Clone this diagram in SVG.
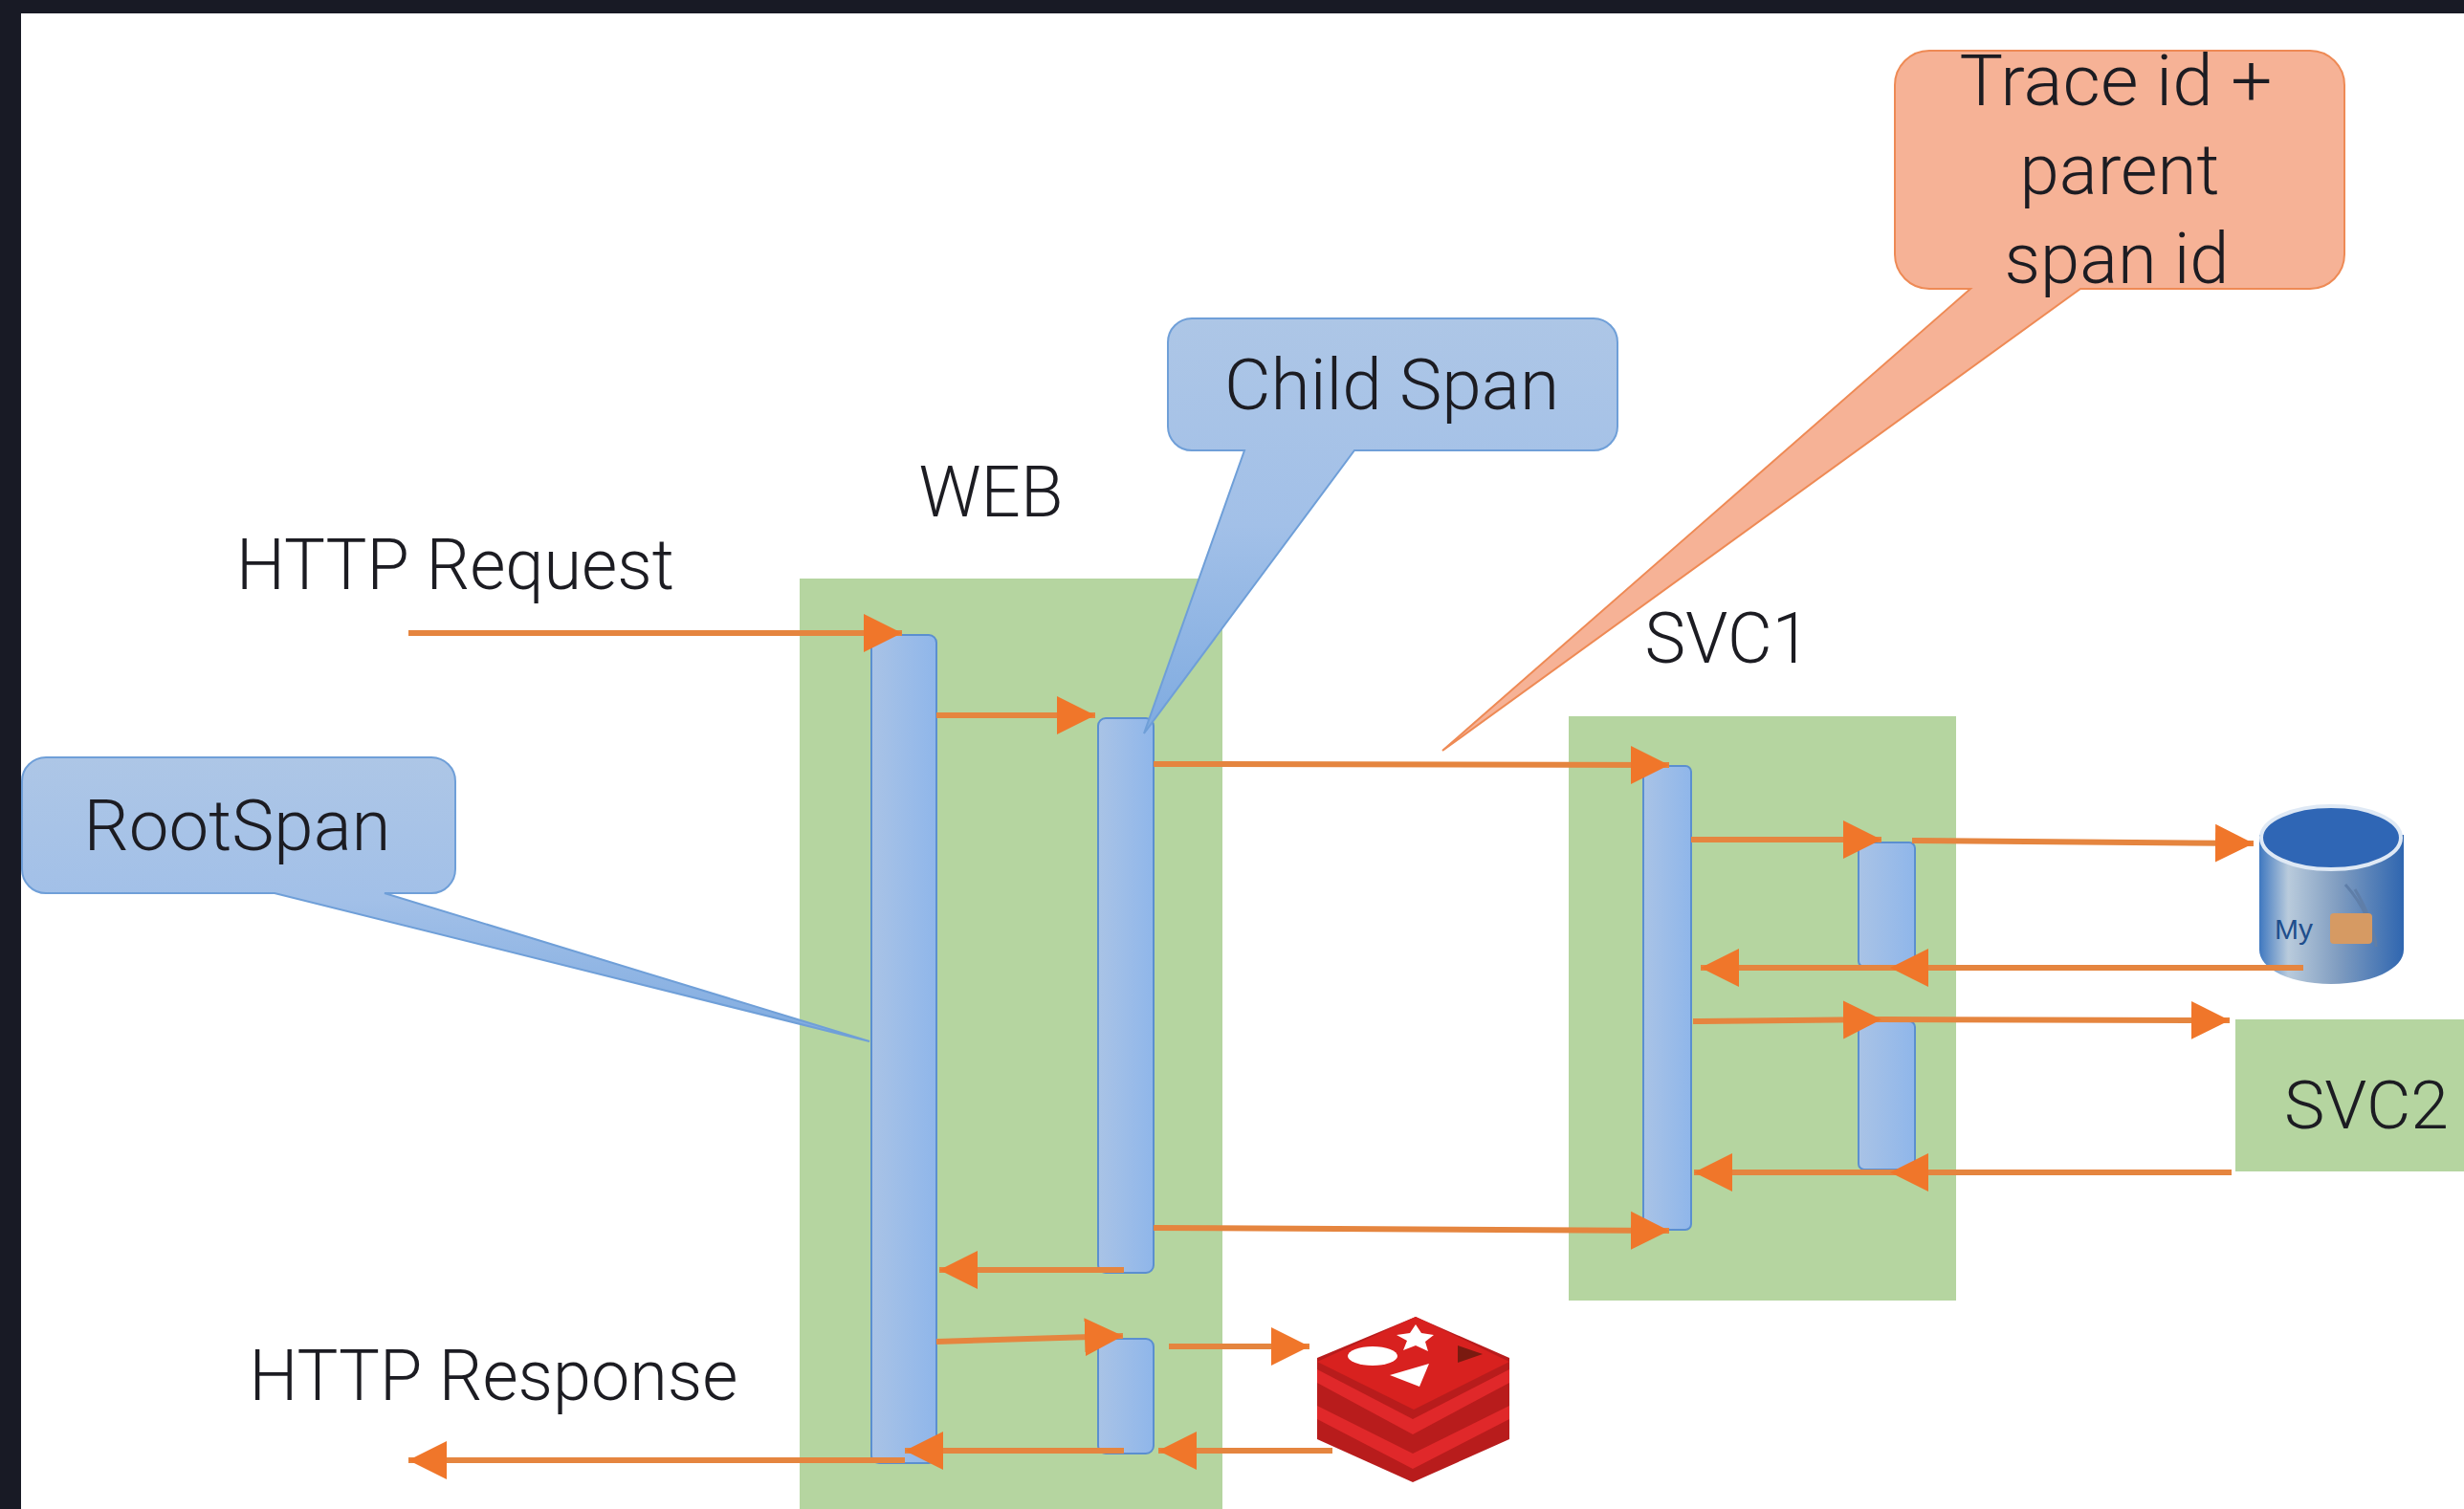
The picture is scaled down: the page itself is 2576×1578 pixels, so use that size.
<svg xmlns="http://www.w3.org/2000/svg" width="2576" height="1578" viewBox="0 0 2576 1578">
<style>
.t{font-family:Roboto,"Liberation Sans",Arial,sans-serif;font-size:74px;fill:#1c1c22;font-weight:300}
.m{text-anchor:middle}
.g{fill:#b5d5a0}
.bar{fill:url(#bar);stroke:#5b8fd0;stroke-width:2}
.blue{fill:url(#call);stroke:#6f9fd8;stroke-width:2}
.or{fill:#f6b296;stroke:#ee8a55;stroke-width:2}
.c{fill:none;stroke:#e5853f;stroke-width:6;marker-end:url(#ah)}
</style>
<defs>
<linearGradient id="bar" x1="0" y1="0" x2="1" y2="0"><stop offset="0" stop-color="#a9c3e6"/><stop offset="1" stop-color="#8fb6ea"/></linearGradient>
<linearGradient id="call" x1="0" y1="0" x2="0" y2="1"><stop offset="0" stop-color="#adc6e6"/><stop offset=".5" stop-color="#a2c0e8"/><stop offset="1" stop-color="#7fabe0"/></linearGradient>
<linearGradient id="cyl" x1="0" y1="0" x2="1" y2="0"><stop offset="0" stop-color="#3f78c0"/><stop offset=".2" stop-color="#b9cbdc"/><stop offset=".55" stop-color="#7f9cc0"/><stop offset="1" stop-color="#2f66b0"/></linearGradient>
<marker id="ah" markerUnits="userSpaceOnUse" markerWidth="42" markerHeight="42" viewBox="0 0 42 42" refX="40" refY="21" orient="auto"><path d="M0 1L40 21L0 41Z" fill="#f0762a"/></marker>
</defs>
<rect width="2576" height="1578" fill="#fff"/>
<g id="frame"><rect width="2576" height="14" fill="#181a25"/><rect width="22" height="1578" fill="#181a25"/></g>

<g id="web"><rect class="g" x="836" y="605" width="442" height="973"/><text class="t m" x="1036" y="540" textLength="151" lengthAdjust="spacingAndGlyphs">WEB</text></g>
<g id="svc1"><rect class="g" x="1640" y="749" width="405" height="611"/><text class="t m" x="1806" y="693" textLength="173" lengthAdjust="spacingAndGlyphs">SVC1</text></g>
<g id="svc2"><rect class="g" x="2337" y="1066" width="239" height="159"/><text class="t m" x="2474" y="1180" textLength="172" lengthAdjust="spacingAndGlyphs" style="font-size:70px">SVC2</text></g>

<g id="web-root-bar"><rect class="bar" x="911" y="664" width="68" height="866" rx="8"/></g>
<g id="web-child-bar"><rect class="bar" x="1148" y="751" width="58" height="580" rx="8"/></g>
<g id="web-redis-bar"><rect class="bar" x="1148" y="1400" width="58" height="120" rx="8"/></g>
<g id="svc1-bar"><rect class="bar" x="1718" y="801" width="50" height="485" rx="6"/></g>
<g id="svc1-db-bar"><rect class="bar" x="1943" y="881" width="59" height="130" rx="6"/></g>
<g id="svc1-svc2-bar"><rect class="bar" x="1943" y="1068" width="59" height="155" rx="6"/></g>

<g id="root-span"><path class="blue" d="M48 792H451a25 25 0 0 1 25 25V909a25 25 0 0 1-25 25H402L909 1089L287 934H48a25 25 0 0 1-25-25V817a25 25 0 0 1 25-25Z"/><text class="t m" x="248" y="889" textLength="321" lengthAdjust="spacingAndGlyphs">RootSpan</text></g>
<g id="child-span"><path class="blue" d="M1246 333H1666a25 25 0 0 1 25 25V446a25 25 0 0 1-25 25H1416L1196 767L1301 471H1246a25 25 0 0 1-25-25V358a25 25 0 0 1 25-25Z"/><text class="t m" x="1455" y="428" textLength="350" lengthAdjust="spacingAndGlyphs">Child Span</text></g>
<g id="trace-id"><path class="or" d="M2017 53H2415a36 36 0 0 1 36 36V266a36 36 0 0 1-36 36H2175L1508 785L2060 302H2017a36 36 0 0 1-36-36V89a36 36 0 0 1 36-36Z"/>
<text class="t m" x="2212" y="110" textLength="327" lengthAdjust="spacingAndGlyphs">Trace id +</text>
<text class="t m" x="2216" y="203" textLength="209" lengthAdjust="spacingAndGlyphs">parent</text>
<text class="t m" x="2213" y="296" textLength="235" lengthAdjust="spacingAndGlyphs">span id</text></g>

<g id="http-request"><text class="t m" x="476" y="616" textLength="458" lengthAdjust="spacingAndGlyphs">HTTP Request</text></g>
<g id="http-response"><text class="t m" x="516" y="1464" textLength="511" lengthAdjust="spacingAndGlyphs">HTTP Response</text></g>

<g id="mysql">
<path d="M2362 873V993C2362 1014 2396 1029 2437 1029S2513 1014 2513 993V873Z" fill="url(#cyl)"/>
<ellipse cx="2437" cy="876" rx="73" ry="33" fill="#2f66b5" stroke="#dfe9f5" stroke-width="4"/>
<path d="M2452 925C2470 945 2484 975 2484 990M2462 930C2474 950 2480 965 2482 985" fill="none" stroke="#5f7ea8" stroke-width="3"/>
<rect x="2436" y="955" width="44" height="32" rx="4" fill="#d69a63"/>
<text x="2378" y="982" font-family="Liberation Sans,Arial,sans-serif" font-size="30" fill="#1f4e8c">My</text>
</g>

<g id="redis">
<path d="M1480 1377L1578 1420V1505L1477 1550L1377 1505V1420Z" fill="#b81c1c"/>
<path d="M1377 1432L1477 1484L1578 1432V1446L1477 1500L1377 1446Z" fill="#e0282a"/>
<path d="M1377 1470L1477 1520L1578 1470V1484L1477 1536L1377 1484Z" fill="#e0282a"/>
<path d="M1480 1377L1578 1424L1478 1474L1377 1424Z" fill="#d8211f"/>
<ellipse cx="1435" cy="1418" rx="26" ry="10" fill="#fff"/>
<path d="M1480 1385L1486 1394L1499 1396L1490 1403L1493 1413L1480 1407L1467 1412L1471 1402L1460 1396L1474 1394Z" fill="#fff"/>
<path d="M1453 1438L1494 1426L1484 1450Z" fill="#fff"/>
<path d="M1524 1407L1550 1416L1524 1425Z" fill="#7a1a10"/>
</g>

<g id="connectors">
<path class="c" d="M427 662H943"/>
<path class="c" d="M979 748H1145"/>
<path class="c" d="M1206 799L1745 800"/>
<path class="c" d="M1206 1284L1745 1287"/>
<path class="c" d="M1175 1328H982"/>
<path class="c" d="M979 1403L1174 1397"/>
<path class="c" d="M1222 1408H1369"/>
<path class="c" d="M1393 1517H1211"/>
<path class="c" d="M1175 1517H946"/>
<path class="c" d="M946 1527H427"/>
<path class="c" d="M1768 878H1967"/>
<path class="c" d="M1999 879L2356 882"/>
<path class="c" d="M2408 1012H1976"/>
<path class="c" d="M1976 1012H1778"/>
<path class="c" d="M1770 1068L1967 1066"/>
<path class="c" d="M1967 1066L2331 1067"/>
<path class="c" d="M2333 1226H1976"/>
<path class="c" d="M1976 1226H1771"/>
</g>
</svg>
